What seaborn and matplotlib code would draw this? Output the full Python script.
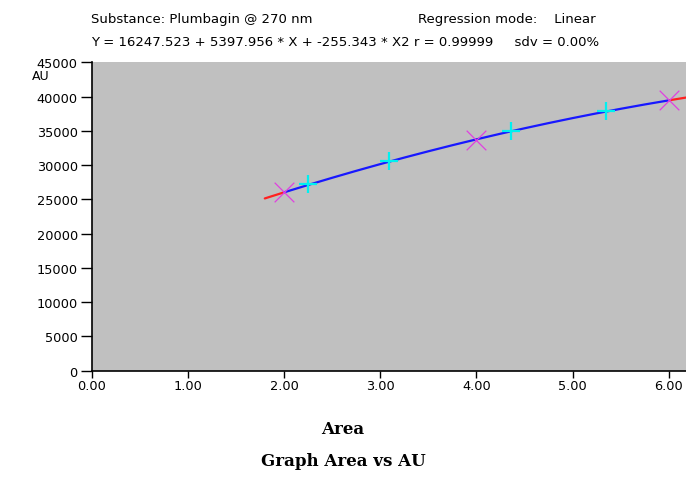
import matplotlib
matplotlib.use("Agg")
import matplotlib.pyplot as plt
import seaborn as sns
import pandas as pd

# Calibration standards (magenta X) and samples (cyan +)
std_x = [2.0, 4.0, 6.0]
std_y = [26030, 33720, 39540]
smp_x = [2.25, 3.09, 4.36, 5.35]
smp_y = [27240, 30600, 34930, 37850]

# Regression curve
curve_x = [2.0, 2.25, 2.5, 2.75, 3.0, 3.25, 3.5, 3.75, 4.0, 4.25, 4.5, 4.75, 5.0, 5.25, 5.5, 5.75, 6.0]
curve_y = [26022, 27100, 28146, 29161, 30143, 31094, 32012, 32899, 33754, 34577, 35368, 36127, 36854, 37549, 38212, 38844, 39443]
ext_left_x = [1.8, 2.0]
ext_left_y = [25136, 26022]
ext_right_x = [6.0, 6.18]
ext_right_y = [39443, 39855]

x_ticks = [0, 1, 2, 3, 4, 5, 6]
y_ticks = [0, 5000, 10000, 15000, 20000, 25000, 30000, 35000, 40000, 45000]

sns.set_style("white")
plt.rcParams['font.family'] = ['DejaVu Sans']
plt.rcParams['text.color'] = 'black'
plt.rcParams['xtick.color'] = 'black'
plt.rcParams['ytick.color'] = 'black'
plt.rcParams['xtick.labelcolor'] = 'black'
plt.rcParams['ytick.labelcolor'] = 'black'

fig = plt.figure(figsize=(6.86, 4.81), dpi=100)
ax = fig.add_axes([91.7/686, 1-371.7/481, 1-91.7/686, (371.7-63.3)/481])
ax.set_facecolor('#c0c0c0')

curve = pd.DataFrame({'x': curve_x, 'y': curve_y})
left = pd.DataFrame({'x': ext_left_x, 'y': ext_left_y})
right = pd.DataFrame({'x': ext_right_x, 'y': ext_right_y})
sns.lineplot(data=left, x='x', y='y', ax=ax, color='#ff2020', lw=1.6, sort=False)
sns.lineplot(data=right, x='x', y='y', ax=ax, color='#ff2020', lw=1.6, sort=False)
sns.lineplot(data=curve, x='x', y='y', ax=ax, color='#1818ff', lw=1.6, sort=False)

sns.scatterplot(x=std_x, y=std_y, ax=ax, marker='x', s=200, color='#e040e0', linewidth=0.9, zorder=5)
sns.scatterplot(x=smp_x, y=smp_y, ax=ax, marker='+', s=170, color='#00f0f0', linewidth=1.6, zorder=5)

ax.set_xlim(0, 6.18)
ax.set_ylim(0, 45000)
ax.set_xticks(x_ticks)
ax.set_xticklabels([f"{v:.2f}" for v in x_ticks])
ax.set_yticks(y_ticks)
ax.set_yticklabels([str(v) for v in y_ticks])
ax.tick_params(axis='y', direction='out', length=8, width=1, labelsize=9.3, pad=2, left=True, colors='black')
ax.tick_params(axis='x', direction='out', length=5, width=1, labelsize=9.3, pad=1, bottom=True, colors='black')
ax.set_xlabel('')
ax.set_ylabel('')
for s in ['top', 'right']:
    ax.spines[s].set_visible(False)
ax.spines['left'].set_color('black')
ax.spines['bottom'].set_color('black')
ax.spines['left'].set_linewidth(1.2)
ax.spines['bottom'].set_linewidth(1.2)

fig.text(91/686, 1-20/481, 'Substance: Plumbagin @ 270 nm', fontsize=9.5, va='center', ha='left', color='black')
fig.text(418/686, 1-20/481, 'Regression mode:    Linear', fontsize=9.5, va='center', ha='left', color='black')
fig.text(91/686, 1-43/481, 'Y = 16247.523 + 5397.956 * X + -255.343 * X2 r = 0.99999     sdv = 0.00%',
         fontsize=9.5, va='center', ha='left', color='black')
fig.text(32/686, 1-77/481, 'AU', fontsize=9, va='center', ha='left', color='black')
fig.text(343/686, 1-430/481, 'Area', fontsize=12, fontweight='bold', family='DejaVu Serif',
         ha='center', va='center', color='black')
fig.text(343/686, 1-462/481, 'Graph Area vs AU', fontsize=12, fontweight='bold', family='DejaVu Serif',
         ha='center', va='center', color='black')

fig.savefig('out.png', dpi=100)
